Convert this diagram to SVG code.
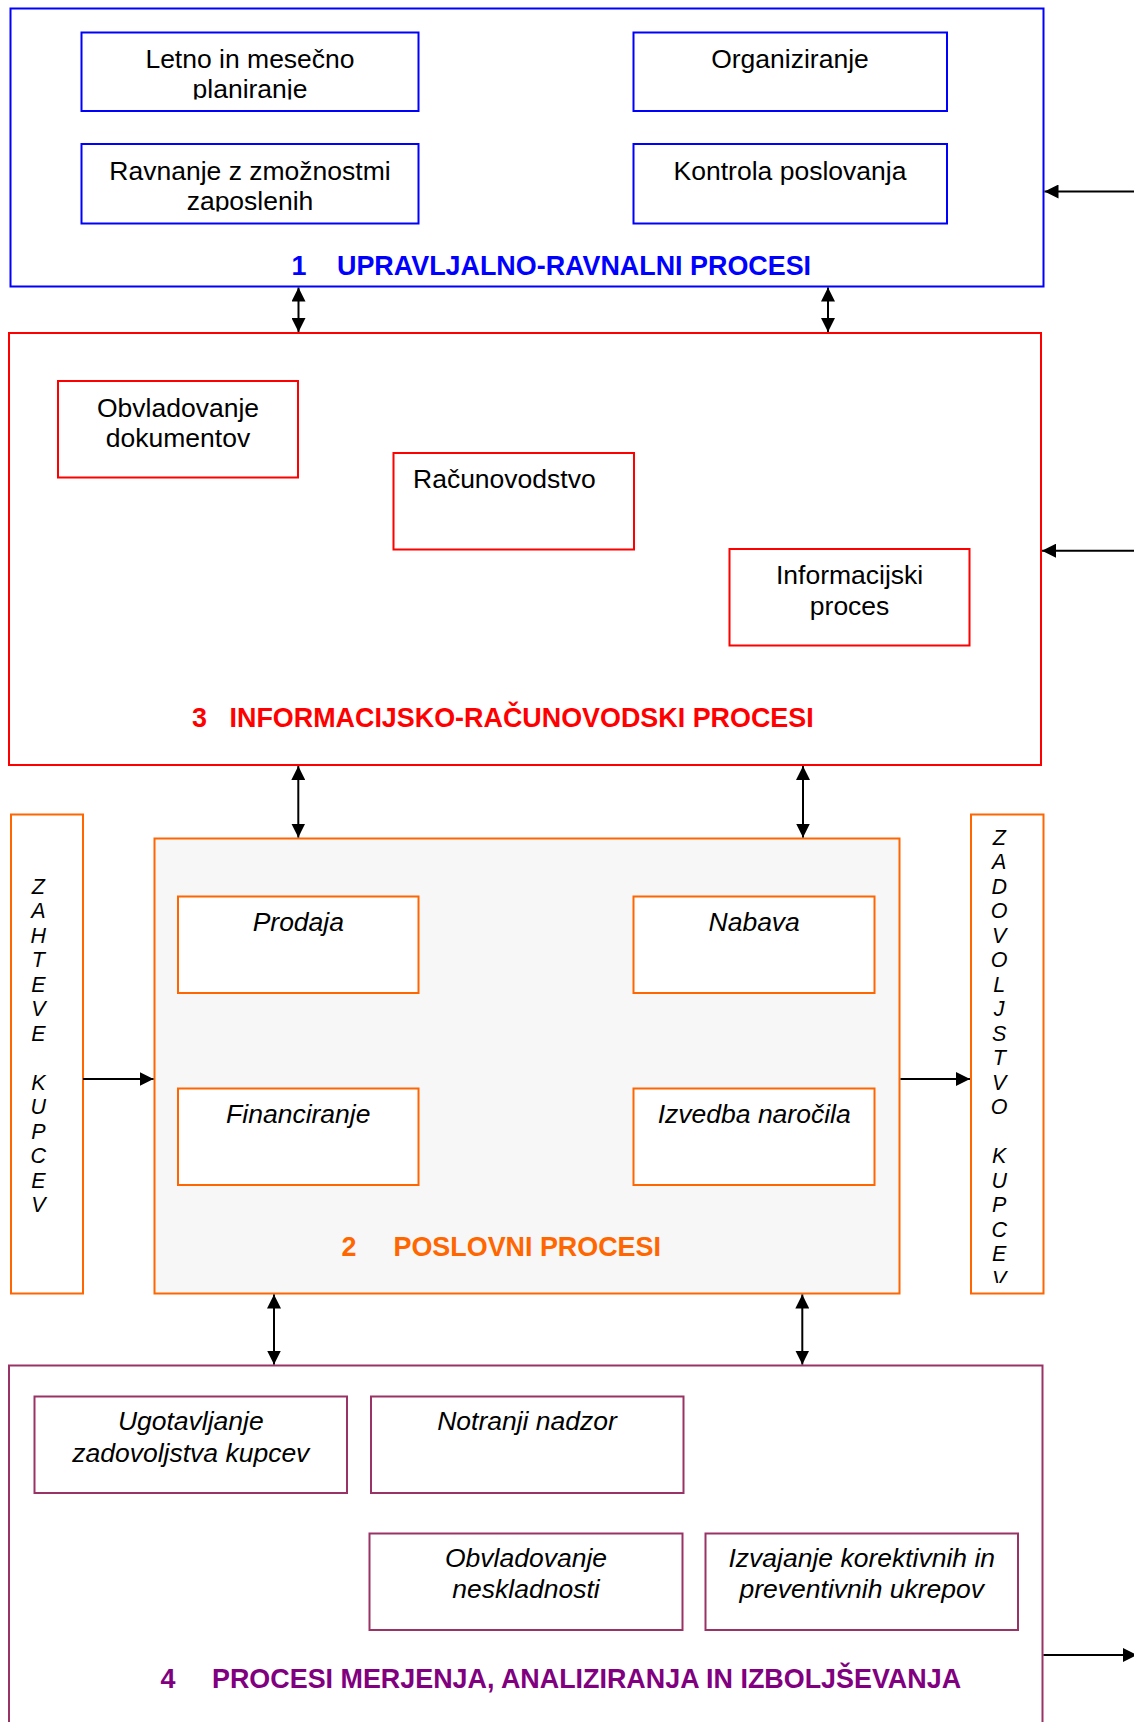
<svg xmlns="http://www.w3.org/2000/svg" width="1134" height="1722" viewBox="0 0 1134 1722">
  <defs>
    <marker id="head" viewBox="0 0 14 14" markerWidth="14" markerHeight="14" refX="14" refY="7" orient="auto-start-reverse" markerUnits="userSpaceOnUse">
      <path d="M0,0 L14,7 L0,14 z" fill="#000"/>
    </marker>
    <clipPath id="clip-plan"><rect x="82" y="33" width="336" height="66.5"/></clipPath>
    <clipPath id="clip-zap"><rect x="82" y="145" width="336" height="66.5"/></clipPath>
    <clipPath id="clip-zad"><rect x="972" y="815" width="71" height="468"/></clipPath>
  </defs>
  <style>
    text { font-family: "Liberation Sans", Arial, sans-serif; font-size: 26.5px; fill: #000; }
    .c { text-anchor: middle; }
    .it { font-style: italic; }
    .lbl { font-weight: bold; font-size: 26.9px; }
    .vert { font-size: 21.5px; font-style: italic; text-anchor: middle; }
    .blue { fill: #fff; stroke: #0000FF; stroke-width: 2; }
    .red { fill: #fff; stroke: #FF0000; stroke-width: 2; }
    .orange { fill: #fff; stroke: #FF6600; stroke-width: 2; }
    .purple { fill: #fff; stroke: #993366; stroke-width: 2; }
    .conn line { stroke: #000; stroke-width: 2; fill: none; }
  </style>

  <!-- 1: management processes -->
  <g id="upravljalno">
    <rect class="blue" x="10.5" y="8.5" width="1033" height="278"/>
    <text class="lbl" y="275" style="fill:#0000FF"><tspan x="291.5">1</tspan><tspan x="337">UPRAVLJALNO-RAVNALNI PROCESI</tspan></text>
  </g>
  <g id="planiranje">
    <rect class="blue" x="81.5" y="32.5" width="337" height="78.5"/>
    <text class="c" clip-path="url(#clip-plan)"><tspan x="250" y="68.3">Letno in mesečno</tspan><tspan x="250" y="98.3">planiranje</tspan></text>
  </g>
  <g id="ravnanje">
    <rect class="blue" x="81.5" y="144" width="337" height="79.5"/>
    <text class="c" clip-path="url(#clip-zap)"><tspan x="250" y="180">Ravnanje z zmožnostmi</tspan><tspan x="250" y="210">zaposlenih</tspan></text>
  </g>
  <g id="organiziranje">
    <rect class="blue" x="633.5" y="32.5" width="313.5" height="78.5"/>
    <text class="c" x="790" y="68.3">Organiziranje</text>
  </g>
  <g id="kontrola">
    <rect class="blue" x="633.5" y="144" width="313.5" height="79.5"/>
    <text class="c" x="790" y="180">Kontrola poslovanja</text>
  </g>

  <!-- 3: information and accounting processes -->
  <g id="informacijsko">
    <rect class="red" x="9" y="333" width="1032" height="432"/>
    <text class="lbl" y="727.3" style="fill:#FF0000"><tspan x="192">3</tspan><tspan x="229.5">INFORMACIJSKO-RAČUNOVODSKI PROCESI</tspan></text>
  </g>
  <g id="dokumenti">
    <rect class="red" x="58" y="381" width="240" height="96.5"/>
    <text class="c"><tspan x="178" y="416.7">Obvladovanje</tspan><tspan x="178" y="447.3">dokumentov</tspan></text>
  </g>
  <g id="racunovodstvo">
    <rect class="red" x="393.5" y="453" width="240.5" height="96.5"/>
    <text x="413" y="488.3">Računovodstvo</text>
  </g>
  <g id="informacijski">
    <rect class="red" x="729.5" y="549" width="240" height="96.5"/>
    <text class="c"><tspan x="849.6" y="584.3">Informacijski</tspan><tspan x="849.6" y="615">proces</tspan></text>
  </g>

  <!-- customer requirements -->
  <g id="zahteve">
    <rect class="orange" x="11" y="814.5" width="72" height="479"/>
    <text class="vert">
      <tspan x="38.3" y="893.6">Z</tspan><tspan x="38.3" y="918.1">A</tspan><tspan x="38.3" y="942.6">H</tspan><tspan x="38.3" y="967.1">T</tspan><tspan x="38.3" y="991.6">E</tspan><tspan x="38.3" y="1016.1">V</tspan><tspan x="38.3" y="1040.6">E</tspan><tspan x="38.3" y="1089.6">K</tspan><tspan x="38.3" y="1114.1">U</tspan><tspan x="38.3" y="1138.6">P</tspan><tspan x="38.3" y="1163.1">C</tspan><tspan x="38.3" y="1187.6">E</tspan><tspan x="38.3" y="1212.1">V</tspan>
    </text>
  </g>

  <!-- 2: business processes -->
  <g id="poslovni">
    <rect x="154.5" y="838.5" width="745" height="455" fill="#F7F7F7" stroke="#FF6600" stroke-width="2"/>
    <text class="lbl" y="1256" style="fill:#FF6600"><tspan x="341.5">2</tspan><tspan x="393.5">POSLOVNI PROCESI</tspan></text>
  </g>
  <g id="prodaja">
    <rect class="orange" x="178" y="896.5" width="240.5" height="96.5"/>
    <text class="c it" x="298.3" y="930.8">Prodaja</text>
  </g>
  <g id="financiranje">
    <rect class="orange" x="178" y="1088.5" width="240.5" height="96.5"/>
    <text class="c it" x="298.3" y="1123.3">Financiranje</text>
  </g>
  <g id="nabava">
    <rect class="orange" x="633.5" y="896.5" width="241" height="96.5"/>
    <text class="c it" x="754.2" y="930.8">Nabava</text>
  </g>
  <g id="izvedba">
    <rect class="orange" x="633.5" y="1088.5" width="241" height="96.5"/>
    <text class="c it" x="754.2" y="1123.3">Izvedba naročila</text>
  </g>

  <!-- customer satisfaction -->
  <g id="zadovoljstvo">
    <rect class="orange" x="971" y="814.5" width="72.5" height="479"/>
    <text class="vert" clip-path="url(#clip-zad)">
      <tspan x="999.2" y="844.7">Z</tspan><tspan x="999.2" y="869.2">A</tspan><tspan x="999.2" y="893.7">D</tspan><tspan x="999.2" y="918.2">O</tspan><tspan x="999.2" y="942.7">V</tspan><tspan x="999.2" y="967.2">O</tspan><tspan x="999.2" y="991.7">L</tspan><tspan x="999.2" y="1016.2">J</tspan><tspan x="999.2" y="1040.7">S</tspan><tspan x="999.2" y="1065.2">T</tspan><tspan x="999.2" y="1089.7">V</tspan><tspan x="999.2" y="1114.2">O</tspan><tspan x="999.2" y="1163.2">K</tspan><tspan x="999.2" y="1187.7">U</tspan><tspan x="999.2" y="1212.2">P</tspan><tspan x="999.2" y="1236.7">C</tspan><tspan x="999.2" y="1261.2">E</tspan><tspan x="999.2" y="1285.7">V</tspan>
    </text>
  </g>

  <!-- 4: measurement, analysis and improvement processes -->
  <g id="merjenje">
    <rect class="purple" x="9" y="1365.5" width="1033.5" height="400"/>
    <text class="lbl" y="1687.7" style="fill:#800080"><tspan x="160.5">4</tspan><tspan x="212">PROCESI MERJENJA, ANALIZIRANJA IN IZBOLJŠEVANJA</tspan></text>
  </g>
  <g id="ugotavljanje">
    <rect class="purple" x="34.5" y="1396.5" width="312.5" height="96.5"/>
    <text class="c it"><tspan x="190.8" y="1430">Ugotavljanje</tspan><tspan x="190.8" y="1461.7">zadovoljstva kupcev</tspan></text>
  </g>
  <g id="nadzor">
    <rect class="purple" x="371" y="1396.5" width="312.5" height="96.5"/>
    <text class="c it" x="527" y="1430">Notranji nadzor</text>
  </g>
  <g id="neskladnosti">
    <rect class="purple" x="369.5" y="1533.5" width="313" height="96.5"/>
    <text class="c it"><tspan x="526" y="1567.3">Obvladovanje</tspan><tspan x="526" y="1598.3">neskladnosti</tspan></text>
  </g>
  <g id="ukrepi">
    <rect class="purple" x="705.5" y="1533.5" width="312.5" height="96.5"/>
    <text class="c it"><tspan x="861.8" y="1567.3">Izvajanje korektivnih in</tspan><tspan x="861.8" y="1598.3">preventivnih ukrepov</tspan></text>
  </g>

  <!-- connectors -->
  <g id="connectors" class="conn">
    <line x1="298.5" y1="287.5" x2="298.5" y2="332" marker-start="url(#head)" marker-end="url(#head)"/>
    <line x1="828" y1="287.5" x2="828" y2="332" marker-start="url(#head)" marker-end="url(#head)"/>
    <line x1="298.3" y1="766" x2="298.3" y2="837.5" marker-start="url(#head)" marker-end="url(#head)"/>
    <line x1="803" y1="766" x2="803" y2="837.5" marker-start="url(#head)" marker-end="url(#head)"/>
    <line x1="274" y1="1294.5" x2="274" y2="1364.5" marker-start="url(#head)" marker-end="url(#head)"/>
    <line x1="802.3" y1="1294.5" x2="802.3" y2="1364.5" marker-start="url(#head)" marker-end="url(#head)"/>
    <line x1="1134" y1="191.5" x2="1044.5" y2="191.5" marker-end="url(#head)"/>
    <line x1="1134" y1="550.7" x2="1042" y2="550.7" marker-end="url(#head)"/>
    <line x1="83" y1="1079" x2="153.5" y2="1079" marker-end="url(#head)"/>
    <line x1="900.5" y1="1079" x2="970" y2="1079" marker-end="url(#head)"/>
    <line x1="1043.5" y1="1655" x2="1137" y2="1655" marker-end="url(#head)"/>
  </g>
</svg>
